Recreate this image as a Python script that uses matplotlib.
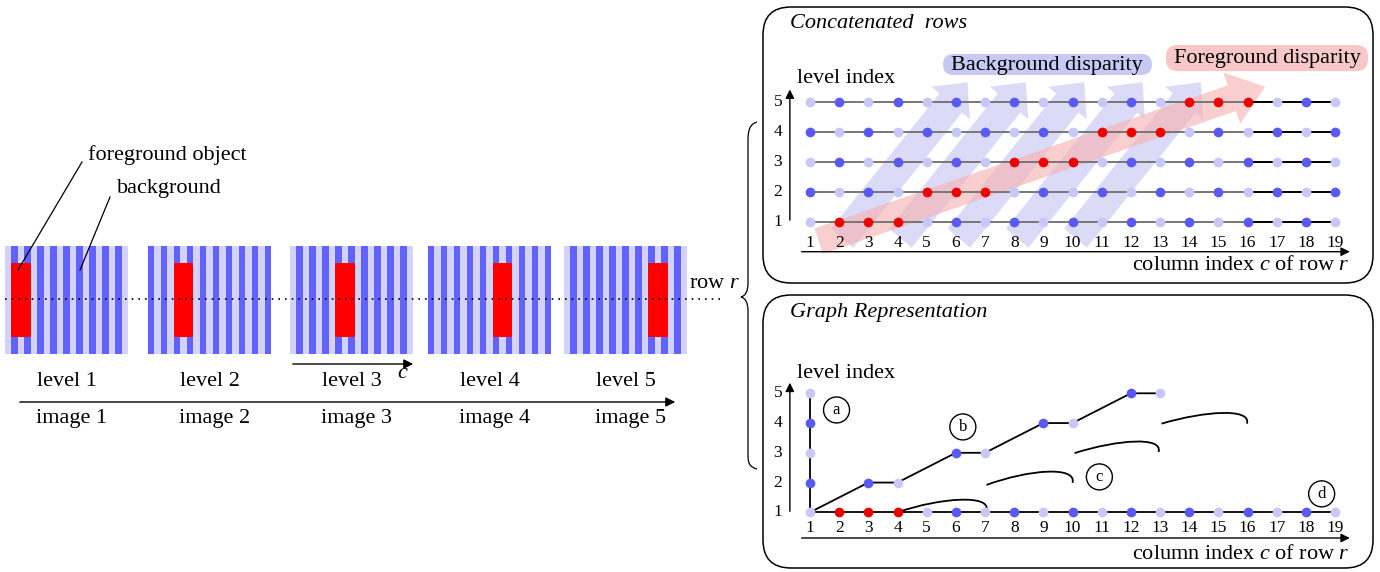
import numpy as np
import matplotlib.pyplot as plt
from matplotlib.patches import FancyBboxPatch, Rectangle, FancyArrow, PathPatch
from matplotlib.path import Path
from matplotlib.colors import to_rgb

plt.rcParams['font.family'] = ['Liberation Serif', 'DejaVu Serif']
plt.rcParams['mathtext.fontset'] = 'custom'
plt.rcParams['mathtext.rm'] = 'Liberation Serif'
plt.rcParams['mathtext.it'] = 'Liberation Serif:italic'

# ---- data ----
columns = list(range(1, 20))
levels = [1, 2, 3, 4, 5]
# background stripe of each column for every level image (L light, D dark)
background = [
    "LDLDLDLDLDLDLDLDLDL",
    "DLDLDLDLDLDLDLDLDLD",
    "LDLDLDLDLDLDLDLDLDL",
    "DLDLDLDLDLDLDLDLDLD",
    "LDLDLDLDLDLDLDLDLDL",
]
foreground_cols = [[2, 3, 4], [5, 6, 7], [8, 9, 10], [11, 12, 13], [14, 15, 16]]
level_labels = ['level 1', 'level 2', 'level 3', 'level 4', 'level 5']
image_labels = ['image 1', 'image 2', 'image 3', 'image 4', 'image 5']

# graph representation
col1_levels = [1, 2, 3, 4, 5]
path_b_cols = [1, 3, 4, 6, 7, 9, 10, 12, 13]
path_b_levels = [1, 2, 2, 3, 3, 4, 4, 5, 5]
# arcs: (start col, start level, end col, end level, peak level)
arcs = [
    (4.0, 1.0, 7.05, 1.07, 1.48),
    (7.05, 1.92, 10.0, 1.99, 2.43),
    (10.07, 2.99, 12.95, 3.03, 3.43),
    (13.05, 3.98, 15.98, 3.98, 4.39),
]
circle_labels = ['a', 'b', 'c', 'd']
circle_pos = [(1.91, 4.44), (6.24, 3.87), (10.92, 2.19), (18.54, 1.62)]

# disparity arrows (tail col, tail level, tip col, tip level)
bg_arrows = [(2.1, 0.45, 6.4, 5.65), (4.1, 0.45, 8.4, 5.65), (6.1, 0.45, 10.4, 5.65),
             (8.1, 0.45, 12.4, 5.65), (10.1, 0.45, 14.4, 5.65)]
fg_arrow = (1.3, 0.35, 16.6, 5.5)

LIGHT = '#c8c8f8'
DARK = '#5a5af2'
RED = '#ee0000'
STRIPE = {'L': '#d2d2fa', 'D': '#6262ff'}
DOT = {'L': LIGHT, 'D': DARK}
MS = 7


def node_color(level, col):
    if col in foreground_cols[level - 1]:
        return RED
    return DOT[background[level - 1][col - 1]]


fig = plt.figure(figsize=(13.8, 5.72), dpi=100)
ax = fig.add_axes([0, 0, 1, 1])

FS = 16

# ---- left: level images ----
img_left = [5, 148, 290, 428, 564]
img_w = 123
img_top, img_bot = 246, 354
red_top, red_bot = 263, 337
colw = img_w / len(columns)
for i, lv in enumerate(levels):
    stripes = np.array([[to_rgb(STRIPE[s]) for s in background[i]]])
    x0 = img_left[i]
    ax.imshow(stripes, extent=(x0, x0 + img_w, img_bot, img_top),
              aspect='auto', interpolation='nearest', zorder=1)
    fc = foreground_cols[i]
    ax.add_patch(Rectangle((x0 + (fc[0] - 1) * colw, red_top),
                           len(fc) * colw, red_bot - red_top,
                           fc='#ff0000', ec='none', zorder=2))
    ax.text(x0 + img_w / 2, 382, level_labels[i], fontsize=FS, ha='center', va='center')
    ax.text(x0 + img_w / 2 + 5, 419, image_labels[i], fontsize=FS, ha='center', va='center')

ax.set_xlim(0, 1380)
ax.set_ylim(572, 0)
ax.axis('off')

ax.plot([5, 722], [299, 299], color='k', lw=1.2, ls=(0, (1, 3)), zorder=3)
ax.text(689, 284, 'row $r$', fontsize=FS, ha='left', va='center')

ax.annotate('', xy=(416, 364), xytext=(290, 364),
            arrowprops=dict(arrowstyle='-|>', lw=1.0, color='k', mutation_scale=14))
ax.text(403, 374, '$c$', fontsize=FS, ha='center', va='center')
ax.annotate('', xy=(678, 402), xytext=(17, 402),
            arrowprops=dict(arrowstyle='-|>', lw=1.0, color='k', mutation_scale=14))

ax.plot([82, 18], [162, 270], color='k', lw=0.9, zorder=4)
ax.plot([110, 80], [197, 270], color='k', lw=0.9, zorder=4)
ax.text(88, 155, 'foreground object', fontsize=FS, ha='left', va='center')
ax.text(117, 189, 'background', fontsize=FS, ha='left', va='center')

# curly brace
verts = [(757, 122), (750, 124), (748, 130), (748, 140), (748, 283),
         (748, 292), (745, 296), (741, 297), (745, 298), (748, 302), (748, 311),
         (748, 455), (748, 464), (750, 467), (757, 469)]
codes = [Path.MOVETO, Path.CURVE4, Path.CURVE4, Path.CURVE4, Path.LINETO,
         Path.CURVE4, Path.CURVE4, Path.CURVE4, Path.CURVE4, Path.CURVE4, Path.CURVE4,
         Path.LINETO, Path.CURVE4, Path.CURVE4, Path.CURVE4]
ax.add_patch(PathPatch(Path(verts, codes), fc='none', ec='k', lw=0.9))

# panel frames
for y0, h in [(7, 276), (295, 273)]:
    ax.add_patch(FancyBboxPatch((763, y0), 610, h,
                                boxstyle='round,pad=0,rounding_size=28',
                                fc='none', ec='k', lw=1.1))


def panel_axes(y_top, y_bot, ylim):
    a = fig.add_axes([763 / 1380, (572 - y_bot) / 572, 610 / 1380, (y_bot - y_top) / 572])
    a.set_xlim(-0.611, 20.30)
    a.set_ylim(*ylim)
    a.axis('off')
    a.patch.set_alpha(0)
    return a


def draw_axes(a, y_axis, x_axis_level, tick_level, label_level, xlabel_level, title_level, title):
    a.annotate('', xy=(0.31, y_axis[1]), xytext=(0.31, y_axis[0]),
               arrowprops=dict(arrowstyle='-|>', lw=1.0, color='k', mutation_scale=13))
    a.annotate('', xy=(19.6, x_axis_level), xytext=(0.62, x_axis_level),
               arrowprops=dict(arrowstyle='-|>', lw=1.0, color='k', mutation_scale=13))
    for lv in levels:
        a.text(-0.1, lv, str(lv), fontsize=12.5, ha='center', va='center')
    for c in columns:
        a.text(c, tick_level, str(c), fontsize=12.5, ha='center', va='center')
    a.text(0.55, label_level, 'level index', fontsize=FS, ha='left', va='center')
    a.text(19.5, xlabel_level, 'column index $c$ of row $r$', fontsize=FS,
           ha='right', va='center')
    a.text(0.3, title_level, title, fontsize=FS, style='italic', ha='left', va='center')


# ---- top panel: concatenated rows ----
top = panel_axes(7, 283, (-1.043, 8.157))
draw_axes(top, (0.96, 5.5), 0.0, 0.29, 5.79, -0.45, 7.6, 'Concatenated  rows')

for tx, ty, hx, hy in bg_arrows:
    top.add_patch(FancyArrow(tx, ty, hx - tx, hy - ty, width=1.0, head_width=1.7,
                             head_length=0.9, length_includes_head=True,
                             fc='#b8b8f2', ec='none', alpha=0.5, zorder=1))
tx, ty, hx, hy = fg_arrow
top.add_patch(FancyArrow(tx, ty, hx - tx, hy - ty, width=0.9, head_width=1.8,
                         head_length=1.2, length_includes_head=True,
                         fc='#f6b4b4', ec='none', alpha=0.65, zorder=2))

for lv in levels:
    top.plot(columns[:16], [lv] * 16, color='#777777', lw=1.4, zorder=3)
    top.plot(columns[15:], [lv] * 4, color='k', lw=1.4, zorder=3)
    for c in columns:
        top.plot(c, lv, 'o', ms=MS, mew=0, color=node_color(lv, c), zorder=4)

top.add_patch(FancyBboxPatch((5.56, 5.89), 7.16, 0.7,
                             boxstyle='round,pad=0,rounding_size=0.35',
                             fc='#c8c8f5', ec='none', zorder=2))
top.text(9.13, 6.2, 'Background disparity', fontsize=FS, ha='center', va='center', zorder=5)
top.add_patch(FancyBboxPatch((13.2, 6.02), 6.93, 0.87,
                             boxstyle='round,pad=0,rounding_size=0.4',
                             fc='#f8c8c8', ec='none', zorder=2))
top.text(16.67, 6.43, 'Foreground disparity', fontsize=FS, ha='center', va='center', zorder=5)

# ---- bottom panel: graph representation ----
bot = panel_axes(295, 568, (-0.872, 8.304))
draw_axes(bot, (0.94, 5.45), 0.136, 0.47, 5.68, -0.43, 7.72, 'Graph Representation')

bot.plot(columns, [1] * len(columns), color='k', lw=1.3, zorder=2)
bot.plot([1] * len(col1_levels), col1_levels, color='k', lw=1.3, zorder=2)
bot.plot(path_b_cols, path_b_levels, color='k', lw=1.3, zorder=2)

for sx, sy, ex, ey, pk in arcs:
    p = Path([(sx, sy), (sx + 1.5, sy + (pk - sy) * 1.05), (ex + 0.15, pk + 0.12), (ex, ey)],
             [Path.MOVETO, Path.CURVE4, Path.CURVE4, Path.CURVE4])
    bot.add_patch(PathPatch(p, fc='none', ec='k', lw=1.3, zorder=2))

for c in columns:
    bot.plot(c, 1, 'o', ms=MS, mew=0, color=node_color(1, c), zorder=4)
for lv in col1_levels[1:]:
    bot.plot(1, lv, 'o', ms=MS, mew=0, color=node_color(lv, 1), zorder=4)
for c, lv in zip(path_b_cols[1:], path_b_levels[1:]):
    bot.plot(c, lv, 'o', ms=MS, mew=0, color=node_color(lv, c), zorder=4)

for lab, (cx, cy) in zip(circle_labels, circle_pos):
    bot.text(cx, cy, lab, fontsize=12, ha='center', va='center',
             bbox=dict(boxstyle='circle,pad=0.3', fc='white', ec='k', lw=1.0))

fig.savefig('out.png', dpi=100)
